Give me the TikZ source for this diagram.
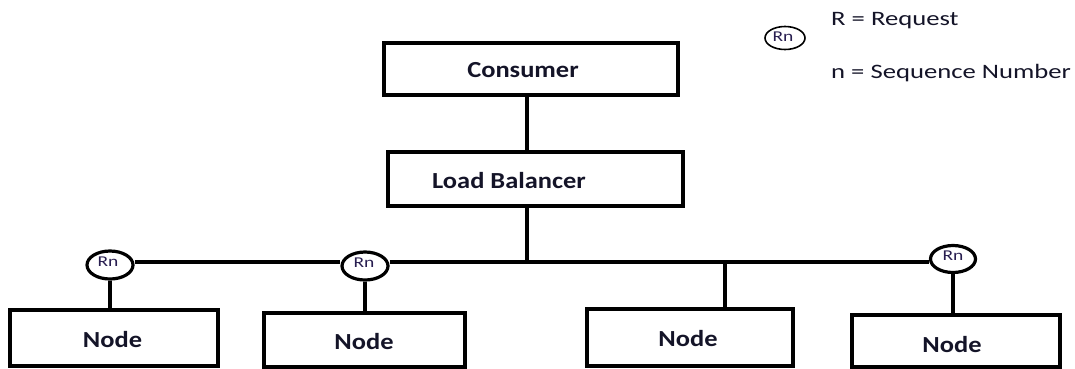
\documentclass[tikz,border=0pt]{standalone}
\usepackage{fontspec}
\setmainfont{Carlito}
\newfontfamily\boxfont[FakeStretch=1.15]{Carlito}
\newfontfamily\legfont[FakeStretch=1.3]{Carlito}
\newfontfamily\rnfont[FakeStretch=1.3]{Carlito}
\usetikzlibrary{shapes.geometric}
\definecolor{rncol}{RGB}{40,30,80}
\definecolor{txtcol}{RGB}{20,20,40}
\tikzset{
  box/.style={draw, line width=3.4pt, rectangle, inner sep=0pt},
  boxtxt/.style={font=\boxfont\bfseries\fontsize{23}{26}\selectfont, text=txtcol, inner sep=0pt},
  req/.style={draw, line width=3.2pt, ellipse, inner sep=0pt, fill=white},
  rntxt/.style={font=\rnfont\fontsize{15}{16}\selectfont, text=rncol, inner sep=0pt},
  wire/.style={line width=3.2pt},
  legtxt/.style={font=\legfont\fontsize{20.5}{22}\selectfont, text=txtcol, inner sep=0pt, anchor=west},
}
\begin{document}
\begin{tikzpicture}[x=1pt,y=-1pt]
\useasboundingbox (0,0) rectangle (1075,368);
% junctions
\coordinate (jlb) at (527,262);
\coordinate (jn3) at (725,262);
% boxes
\node[box, minimum width=294pt, minimum height=52pt] (cons) at (531,69) {};
\node[boxtxt] (const) at (523,70) {Consumer};
\node[box, minimum width=295pt, minimum height=54pt] (lb) at (535.5,179) {};
\node[boxtxt] (lbt) at (509,181) {Load Balancer};
\node[box, minimum width=208pt, minimum height=56pt] (n1) at (114,338) {};
\node[boxtxt] (n1t) at (112.5,340) {Node};
\node[box, minimum width=201pt, minimum height=54pt] (n2) at (364.5,340) {};
\node[boxtxt] (n2t) at (364,342) {Node};
\node[box, minimum width=206pt, minimum height=57pt] (n3) at (690,337.5) {};
\node[boxtxt] (n3t) at (688,339) {Node};
\node[box, minimum width=208pt, minimum height=52pt] (n4) at (956,341) {};
\node[boxtxt] (n4t) at (952,345) {Node};
% request circles
\node[req, minimum width=46pt, minimum height=28pt] (c1) at (110,265) {};
\node[req, minimum width=46pt, minimum height=28pt] (c2) at (365,266) {};
\node[req, minimum width=45pt, minimum height=27pt] (c4) at (953,259) {};
\node[rntxt] (r1) at (108,262) {Rn};
\node[rntxt] (r2) at (364,263) {Rn};
\node[rntxt] (r4) at (953,256) {Rn};
% connectors
\draw[wire] (cons.south -| jlb) -- (lb.north -| jlb);
\draw[wire] (lb.south -| jlb) -- (jlb);
\draw[wire] (c1.east |- jlb) -- (c2.west |- jlb);
\draw[wire] (c2.east |- jlb) -- (c4.west |- jlb);
\draw[wire] (jn3) -- (n3.north -| jn3);
\draw[wire] (c1.south) -- (c1.south |- n1.north);
\draw[wire] (c2.south) -- (c2.south |- n2.north);
\draw[wire] (c4.south) -- (c4.south |- n4.north);
% legend
\node[draw, line width=1.6pt, ellipse, inner sep=0pt, minimum width=40pt, minimum height=23pt] (leg) at (785,38) {};
\node[rntxt] (legr) at (783,37) {Rn};
\node[legtxt] (l1) at (831,21) {R = Request};
\node[legtxt] (l2) at (831,73) {n = Sequence Number};
\end{tikzpicture}
\end{document}
